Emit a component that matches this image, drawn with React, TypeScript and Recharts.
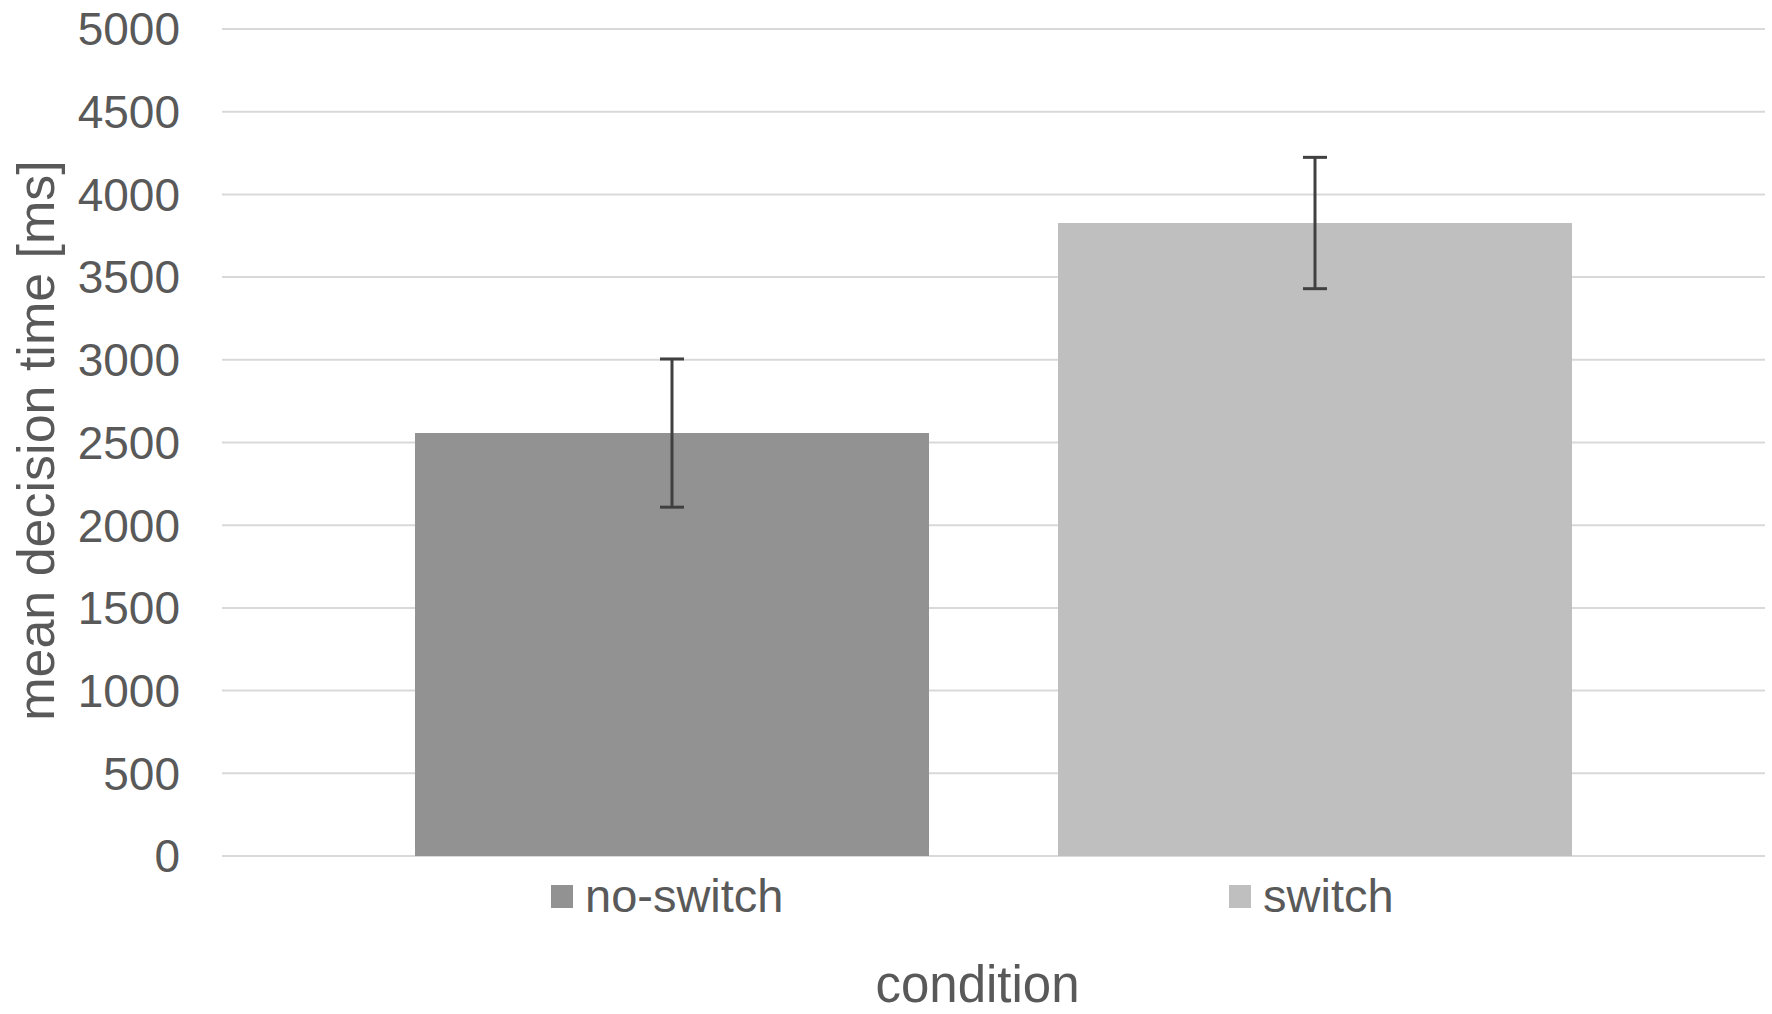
import React from 'react';
import { BarChart, Bar, XAxis, YAxis, CartesianGrid, Legend, ErrorBar } from 'recharts';

const categories = ['condition'];
const seriesNames = ['no-switch', 'switch'];
const noSwitchMean = [2557];
const switchMean = [3827];
const noSwitchErr = [448];
const switchErr = [397];
const yTicks = [0, 500, 1000, 1500, 2000, 2500, 3000, 3500, 4000, 4500, 5000];
const colors = ['#929292', '#BFBFBF'];

const data = categories.map((c, i) => ({
  name: c,
  noSwitch: noSwitchMean[i],
  switch: switchMean[i],
  noSwitchErr: noSwitchErr[i],
  switchErr: switchErr[i],
}));

const FONT = '"Liberation Sans", Arial, sans-serif';
const TEXT = '#595959';

const LEGEND_LEFT = 541;
const LEGEND_W = 880;
const legendLefts = [10, 688];
const LEGEND_H = 60;

const LegendContent = () => (
  <div style={{ position: 'relative', width: LEGEND_W, height: LEGEND_H }}>
    {seriesNames.map((n, i) => (
      <div
        key={n}
        style={{
          position: 'absolute',
          left: legendLefts[i],
          top: 0,
          height: 54,
          display: 'flex',
          alignItems: 'center',
          whiteSpace: 'nowrap',
        }}
      >
        <span style={{ width: 22, height: 23, background: colors[i], display: 'inline-block', marginRight: 12 }} />
        <span style={{ fontSize: 47, color: TEXT, lineHeight: '54px', fontFamily: FONT }}>{n}</span>
      </div>
    ))}
  </div>
);

const YLabel = (props: any) => {
  const vb = props.viewBox || { x: 0, y: 29, width: 222, height: 827 };
  const cy = vb.y + vb.height / 2;
  return (
    <text
      x={0}
      y={0}
      transform={`translate(${vb.x + 36}, ${cy - 2}) rotate(-90)`}
      textAnchor="middle"
      dominantBaseline="central"
      fontSize={52}
      fill={TEXT}
      fontFamily={FONT}
    >
      mean decision time [ms]
    </text>
  );
};

const XLabel = (props: any) => {
  const vb = props.viewBox || { x: 222, y: 856, width: 1543, height: 98 };
  return (
    <text
      x={vb.x + vb.width / 2 - 16}
      y={vb.y + 146}
      textAnchor="middle"
      fontSize={51}
      fill={TEXT}
      fontFamily={FONT}
    >
      condition
    </text>
  );
};

export default function App() {
  return (
    <div
      style={{
        position: 'fixed',
        left: 0,
        top: 0,
        width: 1772,
        height: 1014,
        background: '#ffffff',
        fontFamily: FONT,
      }}
    >
      <BarChart
        width={1772}
        height={1014}
        data={data}
        margin={{ top: 29, right: 7, left: 0, bottom: 0 }}
        barGap={129}
        barSize={514}
      >
        <CartesianGrid vertical={false} stroke="#D9D9D9" strokeWidth={2} />
        <XAxis
          dataKey="name"
          tick={false}
          axisLine={false}
          tickLine={false}
          height={158 - LEGEND_H}
          label={(p: any) => <XLabel {...p} />}
        />
        <YAxis
          width={222}
          domain={[0, 5000]}
          ticks={yTicks}
          interval={0}
          axisLine={false}
          tickLine={false}
          tickSize={0}
          tickMargin={42}
          tick={{ fontSize: 46, fill: TEXT, fontFamily: FONT }}
          label={(p: any) => <YLabel {...p} />}
        />
        <Legend
          content={<LegendContent />}
          wrapperStyle={{ top: 869, left: LEGEND_LEFT, width: LEGEND_W, height: LEGEND_H }}
        />
        <Bar dataKey="noSwitch" name={seriesNames[0]} fill={colors[0]} isAnimationActive={false}>
          <ErrorBar dataKey="noSwitchErr" width={12} strokeWidth={3} stroke="#404040" isAnimationActive={false} />
        </Bar>
        <Bar dataKey="switch" name={seriesNames[1]} fill={colors[1]} isAnimationActive={false}>
          <ErrorBar dataKey="switchErr" width={12} strokeWidth={3} stroke="#404040" isAnimationActive={false} />
        </Bar>
      </BarChart>
    </div>
  );
}
